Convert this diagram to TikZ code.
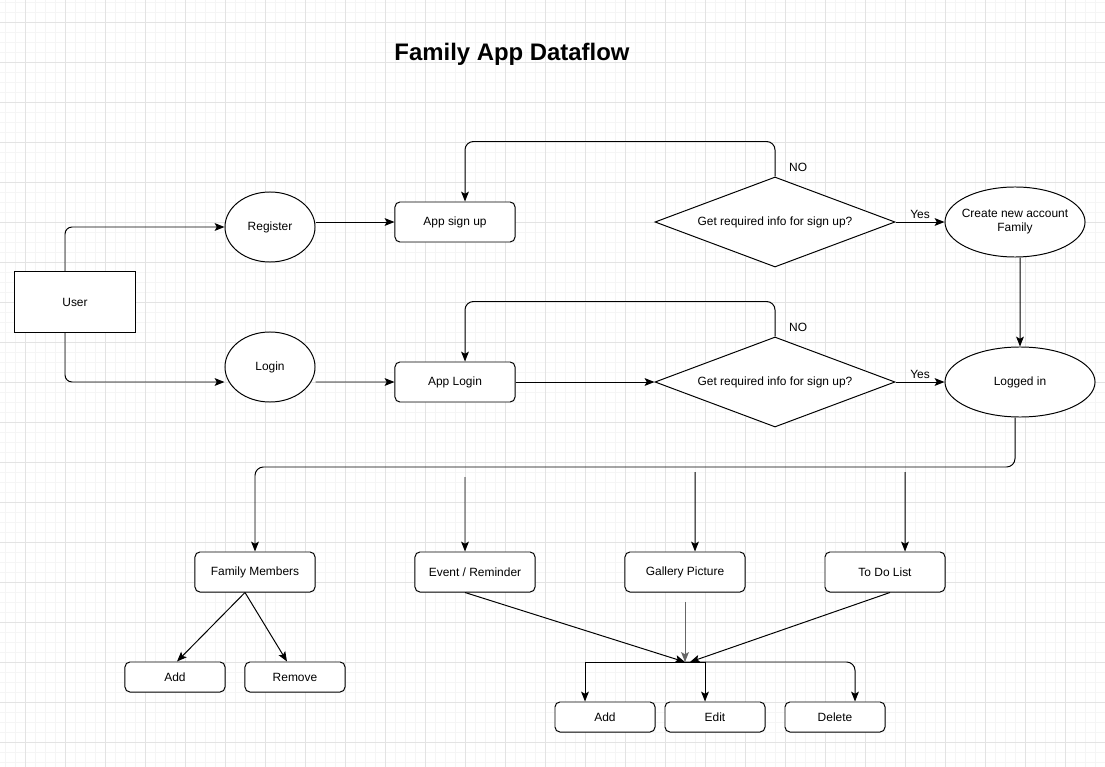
\documentclass[tikz,border=0pt]{standalone}
\usepackage{fontspec}
\setmainfont{Liberation Sans}
\usetikzlibrary{shapes.geometric,arrows.meta,positioning}

\tikzset{
  txt/.style={font=\fontsize{8.5}{10}\selectfont},
  box/.style={txt, draw, rounded corners=3.5pt, minimum width=3cm, minimum height=1cm, inner sep=0pt},
  smallbox/.style={box, minimum width=2.5cm, minimum height=0.75cm},
  oval/.style={txt, draw, ellipse, inner sep=0pt, align=center},
  decision/.style={txt, draw, diamond, aspect=2.7, inner sep=0pt, minimum width=6cm, minimum height=2.25cm},
  arr/.style={-{Stealth[length=7pt,width=5.5pt,inset=1.5pt]}},
  minorgrid/.style={black!4, line width=0.5pt},
  majorgrid/.style={black!11, line width=0.6pt}
}

\begin{document}
\begin{tikzpicture}[x=0.025cm, y=-0.025cm, line width=0.7pt]
		\useasboundingbox (0,0) rectangle (1105,767);
		% Grid:
		\foreach \x in {5,15,...,1105} \draw[minorgrid] (\x,0) -- (\x,767);
		\foreach \y in {2,12,...,767} \draw[minorgrid] (0,\y) -- (1105,\y);
		\foreach \x in {25,65,...,1105} \draw[majorgrid] (\x,0) -- (\x,767);
		\foreach \y in {22,62,...,767} \draw[majorgrid] (0,\y) -- (1105,\y);

		% Nodes:
		\node[font=\fontsize{17}{20}\selectfont\bfseries] (title) at (512,54) {Family App Dataflow};
		\node[txt, draw, minimum width=3cm, minimum height=1.5cm, fill=white] (user) at (75,302) {User};
		\node[oval, fill=white, minimum width=2.25cm, minimum height=1.75cm] (register) at (270,227) {Register};
		\node[oval, fill=white, minimum width=2.25cm, minimum height=1.75cm] (login) at (270,367) {Login};
		\node[box, fill=white] (signup) at (455,222) {App sign up};
		\node[box, fill=white] (applogin) at (455,382) {App Login};
		\node[decision, fill=white] (info1) at (775,222) {Get required info for sign up?};
		\node[decision, fill=white] (info2) at (775,382) {Get required info for sign up?};
		\node[oval, fill=white, inner xsep=-0.1cm, minimum width=3.5cm, minimum height=1.75cm] (newacc) at (1015,222) {Create new account\\Family};
		\node[oval, fill=white, minimum width=3.75cm, minimum height=1.75cm] (loggedin) at (1020,382) {Logged in};
		\node[box, fill=white] (members) at (255,572) {Family Members};
		\node[box, fill=white] (event) at (475,572) {Event / Reminder};
		\node[box, fill=white] (gallery) at (685,572) {Gallery Picture};
		\node[box, fill=white] (todo) at (885,572) {To Do List};
		\node[smallbox, fill=white] (memadd) at (175,677) {Add};
		\node[smallbox, fill=white] (memremove) at (295,677) {Remove};
		\node[smallbox, fill=white] (add) at (605,717) {Add};
		\node[smallbox, fill=white] (edit) at (715,717) {Edit};
		\node[smallbox, fill=white] (delete) at (835,717) {Delete};

		\coordinate (merge) at (685,662);
		\coordinate (eventin) at (465,477);
		\coordinate (galleryin) at (695,472);
		\coordinate (todoin) at (905,472);
		\coordinate (galleryout) at (685,602);

		% Connectors:
		\draw[arr, rounded corners=5pt] ([xshift=-0.25cm]user.north) |- (register.west);
		\draw[arr, rounded corners=5pt] ([xshift=-0.25cm]user.south) |- ([yshift=-0.375cm]login.west);
		\draw[arr] (register.east |- signup.west) -- (signup.west);
		\draw[arr] ([yshift=-0.375cm]login.east) -- (applogin.west);
		\draw[arr] (applogin.east) -- (info2.west);
		\draw[arr] (info1.east) -- node[txt, above, inner sep=2pt] {Yes} (newacc.west);
		\draw[arr] (info2.east) -- node[txt, above, inner sep=2pt] {Yes} (loggedin.west);
		\draw[arr, rounded corners=6pt] (info1.north) -- ++(0,-35) -| ([xshift=0.25cm]signup.north);
		\draw[arr, rounded corners=6pt] (info2.north) -- ++(0,-35) -| ([xshift=0.25cm]applogin.north);
		\node[txt, anchor=west] (no1) at (784,167) {NO};
		\node[txt, anchor=west] (no2) at (784,327) {NO};
		\draw[arr] ([xshift=0.125cm]newacc.south) -- (loggedin.north);
		\draw[arr, rounded corners=6pt] ([xshift=-0.125cm]loggedin.south) |- (members.north |- 0,467) -- (members.north);
		\draw[arr] (eventin) -- ([xshift=-0.25cm]event.north);
		\draw[arr] (galleryin) -- ([xshift=0.25cm]gallery.north);
		\draw[arr] (todoin) -- ([xshift=0.5cm]todo.north);
		\draw[arr] ([xshift=-0.25cm]members.south) -- ([xshift=0.05cm]memadd.north);
		\draw[arr] ([xshift=-0.25cm]members.south) -- ([xshift=-0.2cm]memremove.north);
		\draw[arr] ([xshift=-0.25cm]event.south) -- (merge);
		\draw[arr, black!60] (galleryout) -- (merge);
		\draw[arr] ([xshift=0.125cm]todo.south) -- ([xshift=0.125cm]merge);
		\draw[arr] (merge) -| ([xshift=-0.5cm]add.north);
		\draw[arr] (merge) -| ([xshift=-0.25cm]edit.north);
		\draw[arr, rounded corners=6pt] (merge) -| ([xshift=0.5cm]delete.north);
	\end{tikzpicture}
\end{document}
